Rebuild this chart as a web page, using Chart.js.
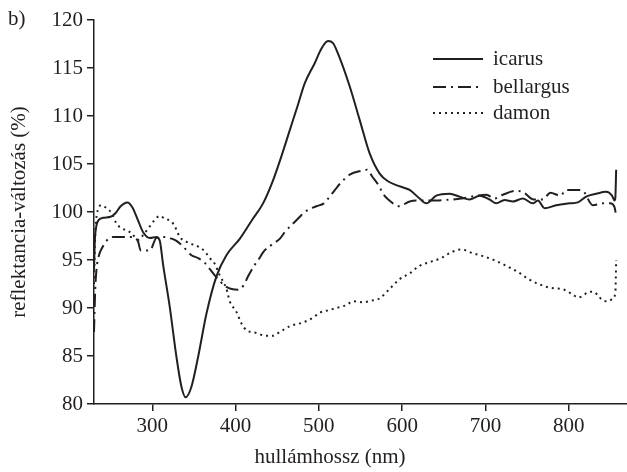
<!DOCTYPE html>
<html>
<head>
<meta charset="utf-8">
<script src="https://cdn.jsdelivr.net/npm/chart.js@4.4.1/dist/chart.umd.min.js"></script>
<style>
  html, body { margin: 0; padding: 0; background: #fff; }
  #wrap { width: 627px; height: 472px; position: relative; }
</style>
</head>
<body>
<div id="wrap"><canvas id="chart-reflektancia"></canvas></div>
<script>
// wavelengths (nm) and reflectance change (%)
const icarusX = [230,231,233,236,241,250,256,262,270,276,283,289,297,305,309,313,321,329,335,340,347,355,365,377,389,405,420,433,445,455,465,475,483,495,503,511,517,523,537,549,561,573,583,593,603,609,621,629,641,657,669,681,693,705,713,723,733,745,757,763,771,785,801,811,821,833,845,852,855,856,857];
const icarusY = [94.0,97.0,98.6,99.2,99.4,99.5,99.9,100.6,101.0,100.5,99.1,97.9,97.3,97.4,97.0,94.5,90.1,84.9,81.8,80.7,81.8,84.9,89.4,93.3,95.5,97.2,99.2,100.9,103.3,105.8,108.5,111.2,113.4,115.5,117.0,117.8,117.6,116.5,113.1,109.6,106.1,104.0,103.2,102.8,102.5,102.3,101.4,100.9,101.7,101.9,101.6,101.3,101.7,101.3,100.9,101.25,101.1,101.4,100.9,101.2,100.4,100.7,100.9,101.0,101.6,101.9,102.1,101.7,101.2,101.5,104.4];

const bellargusX = [230,231.5,233,236,240,245,253,263,277,283,286,297,305,315,324,329,337,347,355,363,375,389,403,410,415,423,428,433,445,453,459,469,476,483,497,506,513,522,528,537,551,558,564,573,577,584,597,609,625,641,651,671,689,701,711,721,737,745,758,769,778,790,797,810,817,829,841,850,855,857];
const bellargusY = [87.5,92.0,94.0,95.5,96.3,97.0,97.4,97.4,97.4,96.9,96.0,96.0,97.3,97.4,97.2,97.0,96.4,95.5,95.2,94.7,93.4,92.2,91.9,92.4,93.3,94.5,95.1,95.8,96.7,97.2,97.9,98.8,99.4,100.0,100.6,100.9,101.6,102.6,103.2,103.9,104.3,104.4,103.7,102.6,101.9,101.25,100.6,101.1,101.2,101.2,101.25,101.4,101.7,101.8,101.4,101.8,102.2,102.1,101.3,101.3,102.0,101.7,102.3,102.3,102.2,100.7,100.9,100.9,100.5,99.6];

const damonX = [230,231,233,239,245,251,257,263,269,275,283,289,297,303,309,315,323,327,333,341,349,355,363,369,375,381,389,393,401,407,413,425,437,445,453,465,481,493,501,513,525,533,541,553,565,573,585,597,609,621,634,647,659,671,685,699,713,727,740,752,764,778,793,805,811,817,822,830,835,841,848,853,856,857];
const damonY = [92.5,96.5,99.5,100.7,100.4,99.9,98.8,98.3,98.1,97.8,97.1,97.6,98.5,99.2,99.6,99.3,99.0,98.5,97.4,96.9,96.6,96.4,95.9,95.2,94.6,93.4,92.0,90.7,89.6,88.4,87.7,87.4,87.1,87.1,87.5,88.1,88.5,89.0,89.5,89.8,90.1,90.3,90.7,90.6,90.8,91.0,92.0,93.0,93.6,94.4,94.8,95.2,95.8,96.1,95.7,95.35,94.9,94.3,93.7,93.0,92.5,92.1,91.95,91.4,91.1,91.25,91.6,91.7,91.3,90.8,90.7,91.0,91.6,95.0];

const seriesNames = ['icarus', 'bellargus', 'damon'];
const xTicks = [300, 400, 500, 600, 700, 800];
const yTicks = [80, 85, 90, 95, 100, 105, 110, 115, 120];

const ink = '#231f20';
const fontFamily = '"Liberation Serif", "Times New Roman", serif';
const dashes = [[], [13, 5, 2, 5], [2, 4]];

const toPoints = (xs, ys) => xs.map((x, i) => ({ x: x, y: ys[i] }));

const lineStyle = (i) => ({
  borderColor: ink,
  borderWidth: 2,
  borderDash: dashes[i],
  pointRadius: 0,
  cubicInterpolationMode: 'monotone',
  fill: false
});

const data = {
  datasets: [
    { label: seriesNames[0], data: toPoints(icarusX, icarusY), ...lineStyle(0) },
    { label: seriesNames[1], data: toPoints(bellargusX, bellargusY), ...lineStyle(1) },
    { label: seriesNames[2], data: toPoints(damonX, damonY), ...lineStyle(2) }
  ]
};

// legend, panel letter and x title drawn by hand
const extras = {
  id: 'extras',
  afterDraw(chart) {
    const ctx = chart.ctx;
    ctx.save();
    ctx.fillStyle = ink;
    ctx.strokeStyle = ink;
    ctx.font = '21px ' + fontFamily;
    ctx.textBaseline = 'middle';
    ctx.textAlign = 'left';
    ctx.fillText('b)', 8, 19);

    const rows = [59, 87, 113];
    seriesNames.forEach((name, i) => {
      ctx.lineWidth = 2;
      ctx.setLineDash(dashes[i]);
      ctx.beginPath();
      ctx.moveTo(433, rows[i]);
      ctx.lineTo(483, rows[i]);
      ctx.stroke();
      ctx.setLineDash([]);
      ctx.fillText(name, 493, rows[i]);
    });

    ctx.textAlign = 'center';
    ctx.fillText('hullámhossz (nm)', 330, 457);
    ctx.restore();
  }
};

const chartElement = document.getElementById('chart-reflektancia');

new Chart(chartElement, {
  type: 'line',
  data: data,
  options: {
    responsive: true,
    maintainAspectRatio: false,
    animation: false,
    devicePixelRatio: 1,
    layout: { padding: { top: 20, right: 0, left: 0, bottom: 0 } },
    plugins: {
      legend: { display: false },
      tooltip: { enabled: false }
    },
    scales: {
      x: {
        type: 'linear',
        min: 230,
        max: 870,
        afterBuildTicks: (scale) => { scale.ticks = xTicks.map(v => ({ value: v })); },
        afterFit: (scale) => { scale.height = 68; },
        ticks: { color: ink, font: { family: fontFamily, size: 21 }, padding: 3, maxRotation: 0 },
        grid: { drawOnChartArea: false, drawTicks: true, tickLength: 7, color: ink, lineWidth: 1.5 },
        border: { display: true, color: ink, width: 1.5 }
      },
      y: {
        type: 'linear',
        min: 80,
        max: 120,
        afterBuildTicks: (scale) => { scale.ticks = yTicks.map(v => ({ value: v })); },
        afterFit: (scale) => { scale.width = 94; },
        ticks: { color: ink, font: { family: fontFamily, size: 21 }, padding: 4 },
        grid: { drawOnChartArea: false, drawTicks: true, tickLength: 7, color: ink, lineWidth: 1.5 },
        border: { display: true, color: ink, width: 1.5 },
        title: {
          display: true,
          text: 'reflektancia-változás (%)',
          color: ink,
          font: { family: fontFamily, size: 21 },
          padding: { top: 7, bottom: 0 }
        }
      }
    }
  },
  plugins: [extras]
});
</script>
</body>
</html>
